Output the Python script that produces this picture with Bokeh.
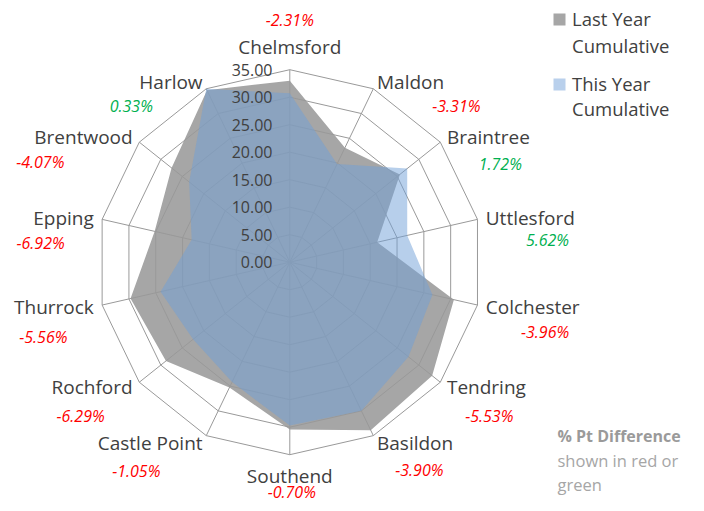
import math
from bokeh.plotting import figure
from bokeh.models import Range1d
from bokeh.core.properties import value
from bokeh.embed import file_html
from bokeh.resources import INLINE

# ---------------- data ----------------
categories = ["Chelmsford", "Maldon", "Braintree", "Uttlesford", "Colchester",
              "Tendring", "Basildon", "Southend", "Castle Point", "Rochford",
              "Thurrock", "Epping", "Brentwood", "Harlow"]
last_year = [33.0, 23.1, 25.6, 16.3, 30.6, 33.1, 33.9, 30.4, 25.3, 28.8, 29.7, 25.2, 27.5, 34.7]
this_year = [30.7, 19.8, 27.3, 21.9, 26.6, 27.6, 30.0, 29.7, 24.2, 22.5, 24.1, 18.3, 23.4, 35.0]
pct_labels = ["-2.31%", "-3.31%", "1.72%", "5.62%", "-3.96%", "-5.53%", "-3.90%",
              "-0.70%", "-1.05%", "-6.29%", "-5.56%", "-6.92%", "-4.07%", "0.33%"]
tick_values = [0, 5, 10, 15, 20, 25, 30, 35]
tick_labels = ["0.00", "5.00", "10.00", "15.00", "20.00", "25.00", "30.00", "35.00"]
series_names = [["Last Year", "Cumulative"], ["This Year", "Cumulative"]]
note_lines = ["% Pt Difference", "shown in red or", "green"]

# ---------------- layout ----------------
W, H = 696, 503
SCALE = 5.5              # px per data unit
CX, CY = 289.3, 261.7    # centre in picture px
PX = 1.0 / SCALE
FONT = "Open Sans"
RMAX = tick_values[-1]
ORIGIN = 0               # picture px of the figure's top-left corner

def sx(x):  # picture px -> data x
    return (x - CX) / SCALE

def sy(y):  # picture px -> data y
    return (CY - y) / SCALE

x0 = sx(ORIGIN)
y1 = sy(ORIGIN)

p = figure(width=W, height=H, output_backend="svg", toolbar_location=None,
           x_range=Range1d(x0, x0 + W / SCALE), y_range=Range1d(y1 - H / SCALE, y1),
           min_border=0, outline_line_color=None, background_fill_color="white",
           border_fill_color="white")
p.axis.visible = False
p.grid.visible = False

n = len(categories)
angles = [2 * math.pi * i / n for i in range(n)]
sins = [math.sin(a) for a in angles]
coss = [math.cos(a) for a in angles]

def ring(vals):
    xs = [v * s for v, s in zip(vals, sins)]
    ys = [v * c for v, c in zip(vals, coss)]
    return xs, ys

# last year fill
lx, ly = ring(last_year)
p.patch(lx, ly, fill_color="#a6a6a6", line_color=None)

# grid rings + spokes
for t in tick_values[1:]:
    gx, gy = ring([t] * n)
    p.line(gx + [gx[0]], gy + [gy[0]], line_color="#999999", line_width=1)
ox, oy = ring([RMAX] * n)
p.multi_line([[0, x] for x in ox], [[0, y] for y in oy], line_color="#999999", line_width=1)

# this year fill
tx, ty = ring(this_year)
p.patch(tx, ty, fill_color="#6f9fd8", fill_alpha=0.5, line_color=None)

# radial tick labels
p.text(x=[sx(272)] * len(tick_values), y=tick_values, text=tick_labels,
       text_font=value(FONT), text_font_size="16px", text_color="#404040",
       text_align="right", text_baseline="middle")

# category labels
cxs, cys, aligns = [], [], []
for s, c in zip(sins, coss):
    tipx, tipy = RMAX * s, RMAX * c
    if abs(s) < 0.05:
        cxs.append(tipx)
        cys.append(tipy + (23 if c > 0 else 21) * c * PX)
        aligns.append("center")
    else:
        cxs.append(tipx + math.copysign(8.5 * abs(s), s) * PX)
        cys.append(tipy + 8 * c * PX)
        aligns.append("left" if s > 0 else "right")
for al in ("left", "right", "center"):
    idx = [i for i in range(n) if aligns[i] == al]
    p.text(x=[cxs[i] for i in idx], y=[cys[i] for i in idx],
           text=[categories[i] for i in idx], text_font=value(FONT),
           text_font_size="19px", text_color="#404040", text_align=al,
           text_baseline="middle")

# % point difference labels (px offsets from spoke tip)
PCT_OFFSETS = [(0, -50), (83, 17), (60, 22), (70, 20.5), (67.6, 27), (49, 34), (46, 34),
               (2, 37), (-70, 35.4), (-58.7, 34), (-58.8, 32), (-61.5, 24), (-99, 19.5), (-75, 17)]
px_, py_, pcol = [], [], []
for i in range(n):
    dx, dy = PCT_OFFSETS[i]
    px_.append(RMAX * sins[i] + dx * PX)
    py_.append(RMAX * coss[i] - dy * PX)
    pcol.append("#ff0000" if pct_labels[i].startswith("-") else "#00b050")
p.text(x=px_, y=py_, text=pct_labels, text_color=pcol, text_font=value(FONT),
       text_font_size="16px", text_font_style="italic", text_align="center",
       text_baseline="middle")

# legend
p.scatter(x=[sx(559), sx(559)], y=[sy(19), sy(84)], marker="square", size=12,
          fill_color=["#a6a6a6", "#b9d0ec"], line_color=None)
p.text(x=[sx(571.5)] * 4, y=[sy(18.3), sy(45), sy(83.3), sy(108.3)],
       text=series_names[0] + series_names[1], text_font=value(FONT),
       text_font_size="18.5px", text_color="#404040", text_align="left",
       text_baseline="middle")

# note
p.text(x=[sx(557)], y=[sy(435)], text=[note_lines[0]], text_font=value(FONT),
       text_font_size="16px", text_font_style="bold", text_color="#9a9a9a",
       text_align="left", text_baseline="middle")
p.text(x=[sx(557)] * 2, y=[sy(460), sy(484)], text=note_lines[1:], text_font=value(FONT),
       text_font_size="16.5px", text_color="#a6a6a6", text_align="left",
       text_baseline="middle")

open("out.html", "w").write(file_html(p, INLINE))
